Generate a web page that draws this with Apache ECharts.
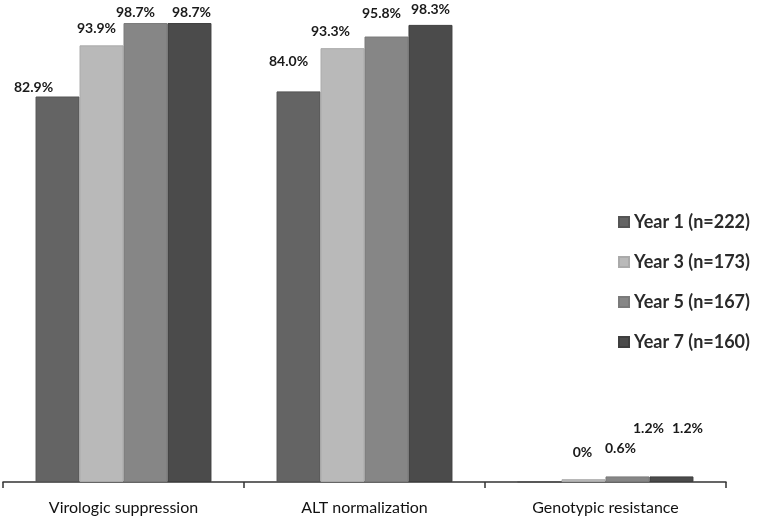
<!DOCTYPE html>
<html><head><meta charset="utf-8">
<script src="https://cdn.jsdelivr.net/npm/echarts@6/dist/echarts.min.js"></script>
<style>html,body{margin:0;padding:0;background:#fff}#c{width:760px;height:522px}</style>
</head><body><div id="c"></div>
<script>
var categories = ["Virologic suppression", "ALT normalization", "Genotypic resistance"];
var seriesNames = ["Year 1 (n=222)", "Year 3 (n=173)", "Year 5 (n=167)", "Year 7 (n=160)"];
var year1 = [82.9, 84.0, 0];
var year3 = [93.9, 93.3, 0.6];
var year5 = [98.7, 95.8, 1.2];
var year7 = [98.7, 98.3, 1.2];
var labelTexts = [["82.9%", "84.0%", "0%"], ["93.9%", "93.3%", "0.6%"], ["98.7%", "95.8%", "1.2%"], ["98.7%", "98.3%", "1.2%"]];

var colors = ["#646464", "#b9b9b9", "#868686", "#4b4b4b"];
var borders = ["#555555", "#aaaaaa", "#7a7a7a", "#3e3e3e"];
// label offsets relative to bar tops (styling only)
var labelShift = [
  [[-24, 2], [-10, -19], [43, -18]],
  [[-5, -6], [-12, -6], [37, -20]],
  [[-10, 0], [-5, -12], [21, -37]],
  [[2, 0], [0, -4], [16, -37]]
];
var allValues = [year1, year3, year5, year7];

var series = allValues.map(function (vals, si) {
  return {
    name: seriesNames[si],
    type: 'bar',
    barGap: '0%',
    barCategoryGap: '27%',
    itemStyle: { color: colors[si], borderColor: borders[si], borderWidth: 1 },
    data: vals.map(function (v, ci) {
      return {
        value: v,
        label: { offset: labelShift[si][ci] }
      };
    }),
    label: {
      show: true,
      position: 'top',
      distance: 4,
      color: '#1a1a1a',
      fontFamily: 'Lato',
      fontSize: 14,
      fontWeight: 'bold',
      formatter: function (p) { return labelTexts[si][p.dataIndex]; }
    }
  };
});

var chart = echarts.init(document.getElementById('c'));
chart.setOption({
  animation: false,
  backgroundColor: '#fff',
  grid: { left: 3, right: 34, top: 17, bottom: 40, containLabel: false },
  legend: {
    orient: 'vertical',
    left: 613, top: 208,
    itemWidth: 10, itemHeight: 10, itemGap: 22,
    icon: 'rect',
    textStyle: { fontFamily: 'Lato', fontSize: 18, lineHeight: 18, fontWeight: 'bold', color: '#2a2a2a' },
    data: seriesNames
  },
  xAxis: {
    type: 'category',
    data: categories,
    axisLine: { lineStyle: { color: '#333', width: 1.5 } },
    axisTick: { show: true, length: 6, inside: false, lineStyle: { color: '#333', width: 1.5 } },
    axisLabel: { fontFamily: 'Lato', fontSize: 16, color: '#111', margin: 18 }
  },
  yAxis: { type: 'value', min: 0, max: 100, show: false, splitLine: { show: false } },
  series: series
});
</script></body></html>
